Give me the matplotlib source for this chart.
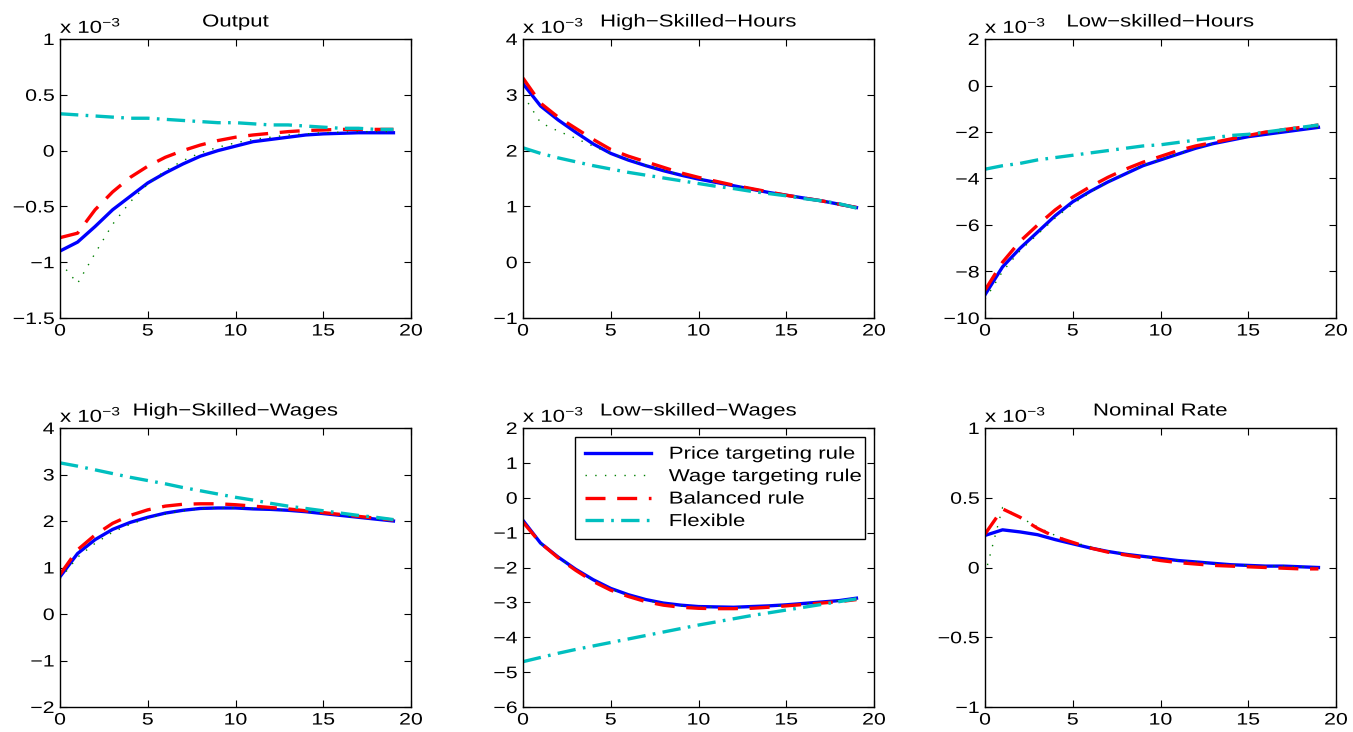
import matplotlib
matplotlib.use("Agg")
import matplotlib.pyplot as plt
from matplotlib.patheffects import AbstractPathEffect
from matplotlib.transforms import Affine2D
import numpy as np

plt.rcParams['font.family'] = ['Liberation Sans', 'DejaVu Sans']
plt.rcParams['mathtext.fontset'] = 'custom'
plt.rcParams['mathtext.rm'] = 'Liberation Sans'
plt.rcParams['mathtext.it'] = 'Liberation Sans'

periods = np.arange(20)

series_names = ["Price targeting rule", "Wage targeting rule", "Balanced rule", "Flexible"]

# Impulse responses (in units of 1e-3)
output_price = [-0.90, -0.82, -0.68, -0.53, -0.41, -0.29, -0.20, -0.12, -0.05, 0.00,
                0.04, 0.08, 0.10, 0.12, 0.14, 0.15, 0.155, 0.16, 0.16, 0.16]
output_wage = [-1.00, -1.19, -0.92, -0.66, -0.46, -0.30, -0.18, -0.09, -0.02, 0.03,
               0.07, 0.10, 0.12, 0.14, 0.15, 0.16, 0.165, 0.17, 0.17, 0.17]
output_bal = [-0.78, -0.74, -0.53, -0.37, -0.24, -0.14, -0.06, 0.00, 0.05, 0.09,
              0.12, 0.14, 0.155, 0.17, 0.18, 0.185, 0.19, 0.19, 0.19, 0.19]
output_flex = [0.33, 0.32, 0.31, 0.30, 0.29, 0.29, 0.28, 0.27, 0.26, 0.25,
               0.25, 0.24, 0.23, 0.23, 0.22, 0.21, 0.20, 0.20, 0.19, 0.19]

hsh_price = [3.20, 2.80, 2.55, 2.33, 2.12, 1.95, 1.83, 1.73, 1.64, 1.56,
             1.49, 1.43, 1.37, 1.31, 1.25, 1.20, 1.15, 1.10, 1.04, 0.98]
hsh_wage = [3.00, 2.50, 2.35, 2.22, 2.08, 1.95, 1.84, 1.74, 1.65, 1.57,
            1.50, 1.43, 1.37, 1.31, 1.25, 1.20, 1.15, 1.10, 1.04, 0.98]
hsh_bal = [3.30, 2.85, 2.60, 2.40, 2.20, 2.02, 1.90, 1.80, 1.70, 1.60,
           1.52, 1.45, 1.38, 1.32, 1.26, 1.20, 1.15, 1.10, 1.04, 0.98]
hsh_flex = [2.05, 1.95, 1.87, 1.80, 1.73, 1.67, 1.61, 1.56, 1.51, 1.46,
            1.41, 1.36, 1.32, 1.27, 1.23, 1.19, 1.14, 1.10, 1.05, 0.97]

lsh_price = [-9.0, -7.8, -7.0, -6.3, -5.6, -5.0, -4.55, -4.15, -3.8, -3.45,
             -3.2, -2.95, -2.7, -2.5, -2.35, -2.2, -2.1, -2.0, -1.9, -1.8]
lsh_wage = [-9.2, -8.0, -7.1, -6.4, -5.7, -5.1, -4.6, -4.15, -3.8, -3.45,
            -3.2, -2.95, -2.7, -2.5, -2.35, -2.2, -2.1, -2.0, -1.9, -1.8]
lsh_bal = [-8.8, -7.6, -6.7, -6.0, -5.35, -4.8, -4.35, -3.95, -3.6, -3.3,
           -3.05, -2.8, -2.6, -2.45, -2.3, -2.15, -2.0, -1.9, -1.8, -1.7]
lsh_flex = [-3.6, -3.45, -3.35, -3.2, -3.1, -3.0, -2.9, -2.8, -2.7, -2.6,
            -2.55, -2.45, -2.35, -2.25, -2.15, -2.1, -2.0, -1.9, -1.8, -1.7]

hsw_price = [0.80, 1.30, 1.60, 1.82, 1.97, 2.08, 2.17, 2.23, 2.27, 2.28,
             2.28, 2.26, 2.25, 2.23, 2.20, 2.16, 2.12, 2.08, 2.04, 2.00]
hsw_wage = [0.75, 1.22, 1.52, 1.76, 1.93, 2.06, 2.15, 2.22, 2.26, 2.28,
            2.28, 2.27, 2.25, 2.23, 2.20, 2.16, 2.12, 2.08, 2.04, 2.00]
hsw_bal = [0.85, 1.38, 1.70, 1.95, 2.12, 2.24, 2.32, 2.36, 2.37, 2.37,
           2.35, 2.32, 2.29, 2.26, 2.22, 2.18, 2.14, 2.10, 2.06, 2.02]
hsw_flex = [3.25, 3.18, 3.10, 3.02, 2.94, 2.87, 2.80, 2.72, 2.65, 2.58,
            2.51, 2.45, 2.38, 2.32, 2.27, 2.22, 2.17, 2.12, 2.08, 2.03]

lsw_price = [-0.65, -1.30, -1.70, -2.05, -2.35, -2.60, -2.78, -2.92, -3.02, -3.08,
             -3.12, -3.13, -3.14, -3.12, -3.10, -3.07, -3.03, -2.99, -2.95, -2.88]
lsw_wage = [-0.68, -1.31, -1.71, -2.06, -2.37, -2.62, -2.80, -2.94, -3.04, -3.10,
            -3.13, -3.14, -3.15, -3.13, -3.11, -3.08, -3.04, -3.00, -2.96, -2.89]
lsw_bal = [-0.70, -1.30, -1.72, -2.08, -2.40, -2.65, -2.83, -2.98, -3.08, -3.14,
           -3.17, -3.18, -3.18, -3.17, -3.14, -3.10, -3.06, -3.02, -2.98, -2.92]
lsw_flex = [-4.70, -4.58, -4.46, -4.35, -4.25, -4.15, -4.05, -3.95, -3.85, -3.75,
            -3.65, -3.56, -3.47, -3.38, -3.30, -3.22, -3.14, -3.06, -2.98, -2.90]

rate_price = [0.23, 0.27, 0.255, 0.235, 0.20, 0.17, 0.14, 0.115, 0.095, 0.08,
              0.065, 0.05, 0.04, 0.03, 0.02, 0.015, 0.01, 0.01, 0.005, 0.0]
rate_wage = [-0.05, 0.43, 0.36, 0.29, 0.23, 0.18, 0.15, 0.12, 0.10, 0.08,
             0.06, 0.05, 0.04, 0.03, 0.02, 0.015, 0.01, 0.01, 0.005, 0.0]
rate_bal = [0.24, 0.42, 0.36, 0.28, 0.22, 0.18, 0.14, 0.11, 0.09, 0.07,
            0.05, 0.035, 0.025, 0.015, 0.01, 0.005, 0.0, -0.005, -0.01, -0.01]

titles = ["Output", "High\u2212Skilled\u2212Hours", "Low\u2212skilled\u2212Hours",
          "High\u2212Skilled\u2212Wages", "Low\u2212skilled\u2212Wages", "Nominal Rate"]
ylims = [(-1.5, 1), (-1, 4), (-10, 2), (-2, 4), (-6, 2), (-1, 1)]
yticks = [[-1.5, -1, -0.5, 0, 0.5, 1], [-1, 0, 1, 2, 3, 4], [-10, -8, -6, -4, -2, 0, 2],
          [-2, -1, 0, 1, 2, 3, 4], [-6, -5, -4, -3, -2, -1, 0, 1, 2], [-1, -0.5, 0, 0.5, 1]]
panels = [
    [output_price, output_wage, output_bal, output_flex],
    [hsh_price, hsh_wage, hsh_bal, hsh_flex],
    [lsh_price, lsh_wage, lsh_bal, lsh_flex],
    [hsw_price, hsw_wage, hsw_bal, hsw_flex],
    [lsw_price, lsw_wage, lsw_bal, lsw_flex],
    [rate_price, rate_wage, rate_bal, None],
]

styles = [
    dict(color=(0, 0, 1), lw=2.4, linestyle='-'),
    dict(color=(0, 0.5, 0), lw=1.0, linestyle=(0, (1, 6))),
    dict(color=(1, 0, 0), lw=2.4, linestyle=(0, (6, 3.5))),
    dict(color=(0, 0.75, 0.75), lw=2.4, linestyle=(0, (5.5, 2.2, 0.8, 2.2))),
]


class WideText(AbstractPathEffect):
    """Draw glyph outlines widened horizontally about a chosen anchor."""

    def __init__(self, sx=1.28, anchor='center'):
        super().__init__()
        self.sx = sx
        self.anchor = anchor

    def draw_path(self, renderer, gc, tpath, affine, rgbFace=None):
        ext = tpath.get_extents()
        if self.anchor == 'left':
            cx = 0.0
        elif self.anchor == 'right':
            cx = ext.x1
        else:
            cx = 0.5 * (ext.x0 + ext.x1)
        stretch = Affine2D().translate(-cx, 0).scale(self.sx, 1).translate(cx, 0)
        renderer.draw_path(gc, tpath, stretch + affine, rgbFace)


SX = 1.28
fig = plt.figure(figsize=(13.53, 7.32), dpi=100)
W, H = 1353, 732
lefts = [60, 523, 985]
tops = [39, 428]
aw, ah = 351, 279


def fmt(v):
    return ('%g' % v).replace('-', '\u2212')


for i in range(6):
    r, c = divmod(i, 3)
    ax = fig.add_axes([lefts[c] / W, 1 - (tops[r] + ah) / H, aw / W, ah / H])
    data = panels[i]
    for j in range(4):
        if data[j] is None:
            continue
        ax.plot(periods, data[j], label=series_names[j], **styles[j])
    ax.set_xlim(0, 20)
    ax.set_ylim(*ylims[i])
    ax.set_xticks([0, 5, 10, 15, 20])
    ax.set_yticks(yticks[i])
    ax.set_yticklabels([fmt(v) for v in yticks[i]])
    ax.tick_params(direction='in', top=True, right=True, length=5, width=0.8,
                   labelsize=12, pad=4)
    for lbl in ax.get_yticklabels():
        lbl.set_path_effects([WideText(SX, 'right')])
    for lbl in ax.get_xticklabels():
        lbl.set_path_effects([WideText(SX, 'center')])
    for s in ax.spines.values():
        s.set_linewidth(1.0)
    t = ax.set_title(titles[i], fontsize=12.5, pad=9)
    t.set_path_effects([WideText(SX, 'center')])
    ax.text(0.0, 1.022, 'x 10$^{\u22123}$', transform=ax.transAxes,
            fontsize=12.5, ha='left', va='baseline',
            path_effects=[WideText(SX, 'left')])
    if i == 4:
        x0 = (575 - lefts[c]) / aw
        x1 = (865 - lefts[c]) / aw
        ytop = 1 - (437 - tops[r]) / ah
        leg = ax.legend(loc='upper left', bbox_to_anchor=(x0, 0.0, x1 - x0, ytop),
                        mode='expand', fontsize=12.5, frameon=True, fancybox=False,
                        edgecolor='black', framealpha=1, handlelength=3.85,
                        handletextpad=1.0, borderaxespad=0.0, labelspacing=0.42,
                        borderpad=0.55)
        leg.get_frame().set_linewidth(1.0)
        for txt in leg.get_texts():
            txt.set_path_effects([WideText(SX, 'left')])

fig.savefig("out.png", dpi=100)
